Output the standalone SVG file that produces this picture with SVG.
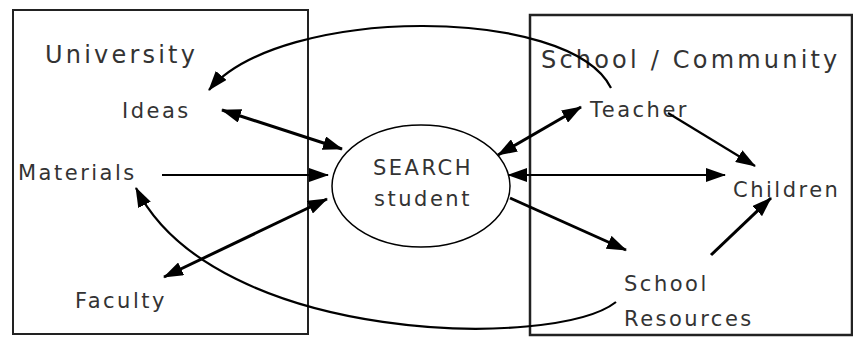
<svg xmlns="http://www.w3.org/2000/svg" width="853" height="337" viewBox="0 0 853 337">
<style>
text{font-family:"DejaVu Sans","Liberation Sans",sans-serif;fill:#333;font-size:21px;letter-spacing:2.5px}
.big{font-size:24px;letter-spacing:3.2px}
.box{fill:none;stroke:#222;stroke-width:2}
.c{fill:none;stroke:#000;stroke-width:3}
.t{fill:none;stroke:#000;stroke-width:2.2}
</style>
<defs>
<marker id="ah" viewBox="0 0 20 14" refX="19" refY="7" markerWidth="20" markerHeight="14" markerUnits="userSpaceOnUse" orient="auto-start-reverse">
<path d="M0,0 L20,7 L0,14 z" fill="#000"/>
</marker>
</defs>
<rect class="box" x="13" y="10" width="295" height="324"/>
<rect class="box" x="530" y="15" width="322" height="320" style="stroke-width:2.5"/>
<g id="university"><text class="big" x="45" y="63">University</text></g>
<g id="school-community"><text class="big" x="541" y="68">School / Community</text></g>
<g id="search"><ellipse cx="421" cy="186" rx="89" ry="61" fill="#fff" stroke="#000" stroke-width="1.5"/>
<text x="423" y="175" text-anchor="middle">SEARCH</text>
<text x="423" y="206" text-anchor="middle">student</text></g>
<g id="ideas"><text x="122" y="118">Ideas</text></g>
<g id="materials"><text x="18" y="180">Materials</text></g>
<g id="faculty"><text x="75" y="308">Faculty</text></g>
<g id="teacher"><text x="590" y="117">Teacher</text></g>
<g id="children"><text x="733" y="197">Children</text></g>
<g id="school-resources"><text x="624" y="291">School</text><text x="624" y="326">Resources</text></g>
<g id="connectors">
<path class="c" d="M222,110 L342,149" marker-start="url(#ah)" marker-end="url(#ah)"/>
<path class="t" d="M162,175 L328,175" marker-end="url(#ah)"/>
<path class="c" d="M164,277 L327,199" marker-start="url(#ah)" marker-end="url(#ah)"/>
<path class="t" d="M616,302 C555,350 215,345 136,188" marker-end="url(#ah)"/>
<path class="t" d="M611,88 C570,5 280,5 209,90" marker-end="url(#ah)"/>
<path class="c" d="M581,107 L498,155" marker-start="url(#ah)" marker-end="url(#ah)"/>
<path class="t" d="M668,113 L755,166" marker-end="url(#ah)"/>
<path class="t" d="M508,175 L725,175" marker-start="url(#ah)" marker-end="url(#ah)"/>
<path class="c" d="M510,198 L626,250" marker-end="url(#ah)"/>
<path class="c" d="M711,255 L771,198" marker-end="url(#ah)"/>
</g>
</svg>
